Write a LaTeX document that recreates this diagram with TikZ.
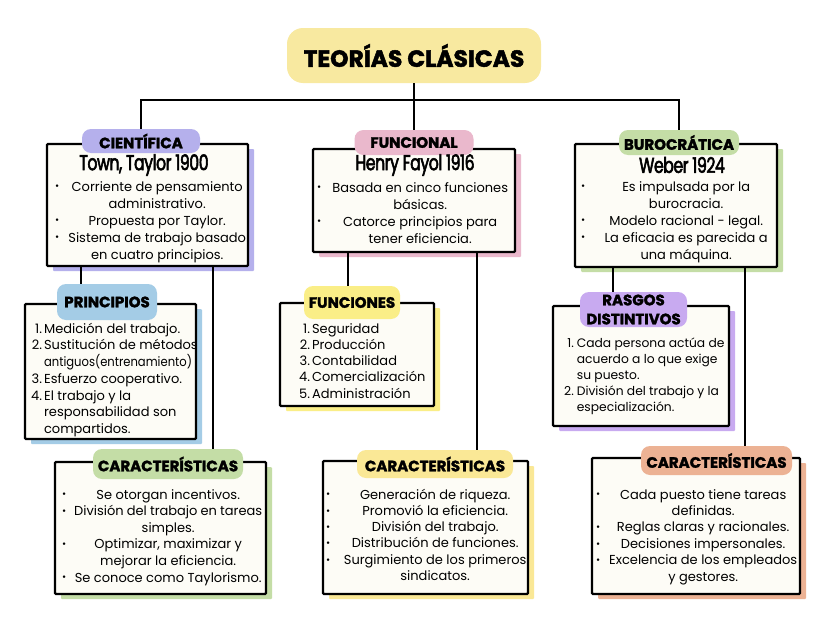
\documentclass[tikz,border=0pt]{standalone}
\usepackage{fontspec}
\usepackage{array}
\setmainfont{Poppins}
\newfontfamily\headfont{Poppins}[FakeStretch=0.73,LetterSpace=-2,FakeBold=2.5]
\newfontfamily\labfont{Poppins}[BoldFeatures={FakeBold=2}]
\usetikzlibrary{shadows}
\definecolor{cpurple}{RGB}{181,176,236}
\definecolor{cpink}{RGB}{234,184,204}
\definecolor{cgreen}{RGB}{196,221,166}
\definecolor{cblue}{RGB}{164,204,230}
\definecolor{cyellow}{RGB}{250,238,135}
\definecolor{cyellowb}{RGB}{250,232,150}
\definecolor{ctitle}{RGB}{248,233,160}
\definecolor{cviolet}{RGB}{200,170,240}
\definecolor{corange}{RGB}{236,178,148}
\definecolor{boxfill}{RGB}{253,252,246}
\newcommand\bul{\raisebox{1.2pt}{\fontsize{10}{10}\selectfont\textbullet}}
\begin{document}
\begin{tikzpicture}[x=1pt,y=-1pt,
  conn/.style={line width=2pt},
  box/.style={draw=black, line width=2.2pt, fill=boxfill, inner sep=0pt, rounded corners=1pt,
    drop shadow={fill=#1, opacity=1, shadow xshift=6pt, shadow yshift=-5pt}},
  pill/.style={fill=#1, rounded corners=9pt, inner sep=0pt, align=center,
    font=\labfont\bfseries\fontsize{15}{19}\selectfont},
  heading/.style={inner sep=0pt, font=\headfont\fontsize{21.5}{23}\selectfont},
  body/.style={inner sep=0pt, anchor=base west, font=\fontsize{13}{17}\selectfont},
  nlist/.style={inner sep=0pt, anchor=base west, font=\fontsize{13}{16.7}\selectfont}]
\useasboundingbox (0,0) rectangle (828,621);
\fill[white] (0,0) rectangle (828,621);

% boxes
\node[box=cpurple, minimum width=201, minimum height=122] (b1) at (147.5,205) {};
\node[box=cpink, minimum width=202, minimum height=103] (b2) at (414,200.5) {};
\node[box=cgreen, minimum width=202, minimum height=123] (b3) at (676,205.5) {};
\node[box=cblue, minimum width=171, minimum height=135] (bp) at (110.5,371.5) {};
\node[box=cyellow, minimum width=154, minimum height=103] (bf) at (357,354.5) {};
\node[box=cviolet, minimum width=176, minimum height=120] (br) at (641,366) {};
\node[box=cgreen, minimum width=211, minimum height=132] (bc1) at (160.5,528) {};
\node[box=cyellowb, minimum width=205, minimum height=133] (bc2) at (425.5,527.5) {};
\node[box=corange, minimum width=208, minimum height=136] (bc3) at (696,526) {};

% pills
\node[pill=ctitle, minimum width=254, minimum height=55, rounded corners=16pt,
  font=\labfont\bfseries\fontsize{23.4}{25}\selectfont] (t) at (414,55.5) {TEORÍAS CLÁSICAS};
\node[pill=cpurple, minimum width=118, minimum height=24] (l1) at (141,141) {CIENTÍFICA};
\node[pill=cpink, minimum width=119, minimum height=25] (l2) at (414,142.5) {FUNCIONAL};
\node[pill=cgreen, minimum width=120, minimum height=25] (l3) at (679,142.5) {BUROCRÁTICA};
\node[pill=cblue, minimum width=100, minimum height=36] (lp) at (107,302) {PRINCIPIOS};
\node[pill=cyellow, minimum width=96, minimum height=33] (lf) at (352,302.5) {FUNCIONES};
\node[pill=cviolet, minimum width=107, minimum height=35] (lr) at (633.5,309.5) {RASGOS\\DISTINTIVOS};
\node[pill=cgreen, minimum width=150, minimum height=30] (lc1) at (168,464) {CARACTERÍSTICAS};
\node[pill=cyellowb, minimum width=156, minimum height=28] (lc2) at (435,464) {CARACTERÍSTICAS};
\node[pill=corange, minimum width=151, minimum height=29] (lc3) at (716.5,460.5) {CARACTERÍSTICAS};

% connectors
\coordinate (hy) at (0,100);
\coordinate (x1) at (81,0);
\coordinate (x2) at (213,0);
\coordinate (x3) at (348,0);
\coordinate (x4) at (477,0);
\coordinate (x5) at (613,0);
\coordinate (x6) at (745,0);
\draw[conn] (t.south) -- (l2.north);
\draw[conn] (l1.north) -- (l1.north |- hy) -- (l3.north |- hy) -- (l3.north);
\draw[conn] (b1.south -| x1) -- (lp.north -| x1);
\draw[conn] (b1.south -| x2) -- (lc1.north -| x2);
\draw[conn] (b2.south -| x3) -- (lf.north -| x3);
\draw[conn] (b2.south -| x4) -- (lc2.north -| x4);
\draw[conn] (b3.south -| x5) -- (lr.north -| x5);
\draw[conn] (b3.south -| x6) -- (lc3.north -| x6);

% headings
\node[heading] (h1) at (144,165) {Town, Taylor 1900};
\node[heading] (h2) at (415,165) {Henry Fayol 1916};
\node[heading] (h3) at (682,165) {Weber 1924};

% body texts
\node[body] (t1) at (55,191) {\begin{tabular}[t]{@{}p{12pt}@{}>{\centering\arraybackslash}p{180pt}@{}}
\bul & Corriente de pensamiento\\
 & administrativo.\\
\bul & Propuesta por Taylor.\\
\bul & Sistema de trabajo basado\\
 & en cuatro principios.
\end{tabular}};
\node[body] (t2) at (317,192) {\begin{tabular}[t]{@{}p{12pt}@{}>{\centering\arraybackslash}p{182pt}@{}}
\bul & Basada en cinco funciones\\
 & básicas.\\
\bul & Catorce principios para\\
 & tener eficiencia.
\end{tabular}};
\node[body] (t3) at (581,191) {\begin{tabular}[t]{@{}p{12pt}@{}>{\centering\arraybackslash}p{186pt}@{}}
\bul & Es impulsada por la\\
 & burocracia.\\
\bul & Modelo racional - legal.\\
\bul & La eficacia es parecida a\\
 & una máquina.
\end{tabular}};
\node[nlist] (tp) at (31,333) {\begin{tabular}[t]{@{}r@{\hspace{2pt}}l@{}}
1. & Medición del trabajo.\\
2. & Sustitución de métodos\\
 & \scalebox{0.89}[1]{antiguos(entrenamiento)}\\
3. & Esfuerzo cooperativo.\\
4. & El trabajo y la\\
 & responsabilidad son\\
 & compartidos.
\end{tabular}};
\node[nlist, font=\fontsize{13}{16.3}\selectfont] (tf) at (299,333) {\begin{tabular}[t]{@{}r@{\hspace{2pt}}l@{}}
1. & Seguridad\\
2. & Producción\\
3. & Contabilidad\\
4. & Comercialización\\
5. & Administración
\end{tabular}};
\node[nlist, font=\fontsize{12.3}{16}\selectfont] (tr) at (564,347) {\begin{tabular}[t]{@{}r@{\hspace{3pt}}l@{}}
1. & Cada persona actúa de\\
 & acuerdo a lo que exige\\
 & su puesto.\\
2. & División del trabajo y la\\
 & especialización.
\end{tabular}};
\node[body, font=\fontsize{13}{16.6}\selectfont] (tc1) at (62,499) {\begin{tabular}[t]{@{}p{12pt}@{}>{\centering\arraybackslash}p{188pt}@{}}
\bul & Se otorgan incentivos.\\
\bul & División del trabajo en tareas\\
 & simples.\\
\bul & Optimizar, maximizar y\\
 & mejorar la eficiencia.\\
\bul & Se conoce como Taylorismo.
\end{tabular}};
\node[body, font=\fontsize{13}{16.3}\selectfont] (tc2) at (326,499) {\begin{tabular}[t]{@{}p{12pt}@{}>{\centering\arraybackslash}p{194pt}@{}}
\bul & Generación de riqueza.\\
\bul & Promovió la eficiencia.\\
\bul & División del trabajo.\\
\bul & Distribución de funciones.\\
\bul & Surgimiento de los primeros\\
 & sindicatos.
\end{tabular}};
\node[body, font=\fontsize{13}{16.4}\selectfont] (tc3) at (596,499) {\begin{tabular}[t]{@{}p{12pt}@{}>{\centering\arraybackslash}p{190pt}@{}}
\bul & Cada puesto tiene tareas\\
 & definidas.\\
\bul & Reglas claras y racionales.\\
\bul & Decisiones impersonales.\\
\bul & Excelencia de los empleados\\
 & y gestores.
\end{tabular}};
\end{tikzpicture}
\end{document}
